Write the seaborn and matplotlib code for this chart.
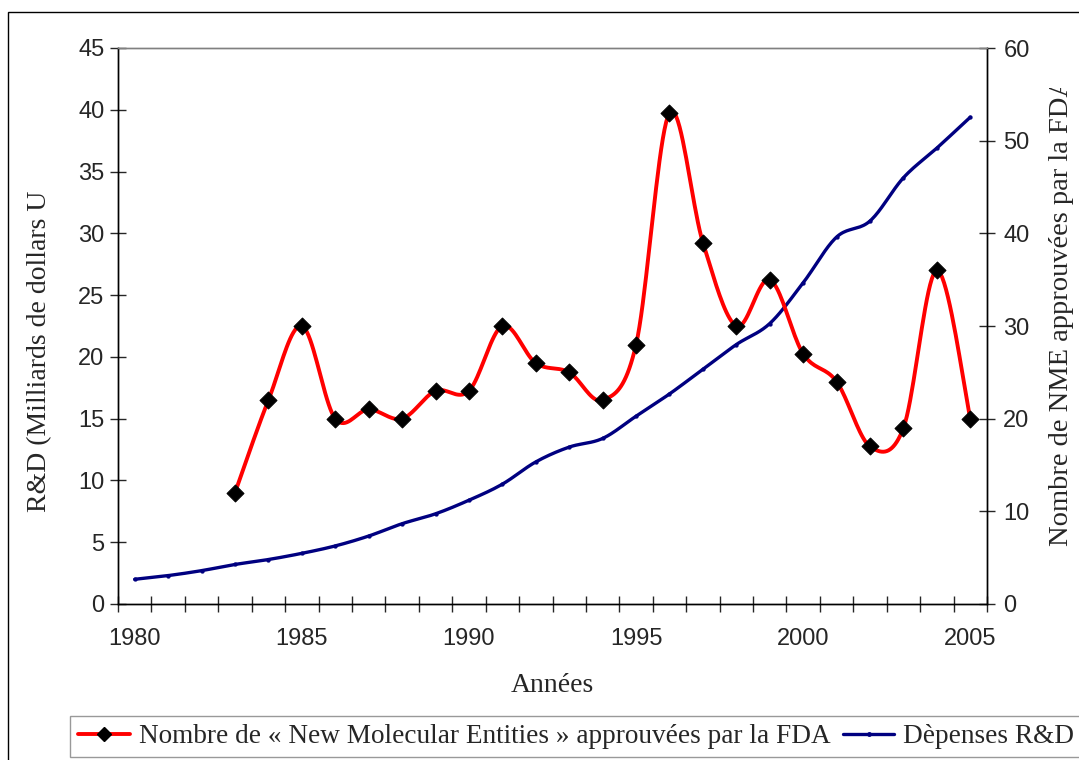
import numpy as np
import pandas as pd
import seaborn as sns
import matplotlib
matplotlib.use("Agg")
from matplotlib import pyplot as plt
from matplotlib.lines import Line2D
from matplotlib.patches import Rectangle
from matplotlib.transforms import Bbox

# data
years_rd = list(range(1980, 2006))
rd_spend = [2.0, 2.3, 2.7, 3.2, 3.6, 4.1, 4.7, 5.5, 6.5, 7.3, 8.4, 9.7, 11.5,
            12.7, 13.4, 15.2, 17.0, 19.0, 21.0, 22.7, 26.0, 29.7, 31.0, 34.5,
            36.9, 39.4]
years_nme = list(range(1983, 2006))
nme_count = [12, 22, 30, 20, 21, 20, 23, 23, 30, 26, 25, 22, 28, 53, 39, 30,
             35, 27, 24, 17, 19, 36, 20]

lbl_nme = "Nombre de « New Molecular Entities » approuvées par la FDA"
lbl_rd = "Dèpenses R&D"
ylab_left = "R&D (Milliards de dollars US)"
ylab_right = "Nombre de NME approuvées par la FDA"
xlab = "Années"

SERIF = "Liberation Serif"
SANS = "Liberation Sans"


def smooth(xs, ys, n=20):
    # excel-like smoothed line (catmull-rom as bezier)
    p = np.column_stack([xs, ys]).astype(float)
    out = []
    for i in range(len(p) - 1):
        p0 = p[i - 1] if i > 0 else p[i]
        p1, p2 = p[i], p[i + 1]
        p3 = p[i + 2] if i + 2 < len(p) else p[i + 1]
        c1 = p1 + (p2 - p0) / 6
        c2 = p2 - (p3 - p1) / 6
        t = np.linspace(0, 1, n, endpoint=False)[:, None]
        seg = ((1 - t) ** 3) * p1 + 3 * ((1 - t) ** 2) * t * c1 \
            + 3 * (1 - t) * t ** 2 * c2 + t ** 3 * p2
        out.append(seg)
    out.append(p[-1:])
    out = np.vstack(out)
    return pd.DataFrame({"x": out[:, 0], "y": out[:, 1]})


sns.set_theme(style="white")
plt.rcParams["font.family"] = [SANS, "DejaVu Sans"]

fig = plt.figure(figsize=(10.79, 7.6), dpi=100)
ax = fig.add_axes([118 / 1079, 1 - 604 / 760, (987 - 118) / 1079, (604 - 48) / 760])
ax2 = ax.twinx()

rd_df = pd.DataFrame({"year": years_rd, "rd": rd_spend})
nme_df = pd.DataFrame({"year": years_nme, "nme": nme_count})

navy = "#000080"
sns.lineplot(data=smooth(rd_df["year"], rd_df["rd"]), x="x", y="y", ax=ax,
             color=navy, lw=2.4, sort=False, legend=False)
sns.scatterplot(data=rd_df, x="year", y="rd", ax=ax, color=navy, s=8,
                edgecolor=navy, zorder=3, legend=False)

sns.lineplot(data=smooth(nme_df["year"], nme_df["nme"]), x="x", y="y", ax=ax2,
             color="#ff0000", lw=2.8, sort=False, legend=False)
sns.scatterplot(data=nme_df, x="year", y="nme", ax=ax2, color="black",
                marker="D", s=75, edgecolor="black", zorder=4, legend=False)

ax.set_xlim(1979.5, 2005.5)
ax.set_ylim(0, 45)
ax2.set_ylim(0, 60)
ax.set_yticks(np.arange(0, 46, 5))
ax2.set_yticks(np.arange(0, 61, 10))
ax.set_xticks(np.arange(1980, 2006, 5))
ax.set_xticks(np.arange(1979.5, 2006, 1), minor=True)
ax.set_xlabel("")
ax.set_ylabel("")
ax2.set_ylabel("")

for a in (ax, ax2):
    for s in a.spines.values():
        s.set_color("black")
        s.set_linewidth(1.0)
    a.spines["top"].set_color("#808080")
ax.tick_params(axis="y", direction="inout", length=11.5, width=1, labelsize=17,
               pad=4, left=True)
ax2.tick_params(axis="y", direction="inout", length=11.5, width=1, labelsize=17,
                pad=6, right=True)
ax.tick_params(axis="x", which="major", length=0, labelsize=17, pad=17)
ax.tick_params(axis="x", which="minor", direction="inout", length=11.5, width=1,
               bottom=True)
ax.grid(False)
ax2.grid(False)

# outer chart frame
fig.patches.append(Rectangle((8 / 1079, -0.2), 1.2, 1.2 - 12 / 760,
                             transform=fig.transFigure, fill=False,
                             edgecolor="black", lw=1.0))

# axis titles (clipped like the original)
fig.text(552 / 1079, 1 - 685 / 760, xlab, ha="center", va="center",
         family=SERIF, fontsize=20)
t1 = fig.text(40 / 1079, 1 - 512 / 760, ylab_left, rotation=90, ha="center",
              va="bottom", family=SERIF, fontsize=20)
t1.set_clip_box(Bbox.from_extents(0, 0, 1079, 760 - 190))
t1.set_clip_on(True)
t2 = fig.text(1062 / 1079, 1 - 546 / 760, ylab_right, rotation=90, ha="center",
              va="bottom", family=SERIF, fontsize=20.5)
t2.set_clip_box(Bbox.from_extents(0, 0, 1079, 760 - 88))
t2.set_clip_on(True)

handles = [Line2D([], [], color="#ff0000", lw=2.8, marker="D", markersize=7,
                  markerfacecolor="black", markeredgecolor="black"),
           Line2D([], [], color=navy, lw=2.4, marker="o", markersize=2.5,
                  markerfacecolor=navy, markeredgecolor=navy)]
leg = fig.legend(handles, [lbl_nme, lbl_rd], loc="upper left",
                 bbox_to_anchor=(70 / 1079, 1 - 716 / 760), ncol=2,
                 frameon=True, fancybox=False, edgecolor="#808080",
                 borderaxespad=0, handlelength=1.9, columnspacing=0.45,
                 handletextpad=0.33, borderpad=0.3,
                 prop={"family": SERIF, "size": 19.6})
leg.get_frame().set_linewidth(1.0)

fig.savefig("out.png", dpi=100)
